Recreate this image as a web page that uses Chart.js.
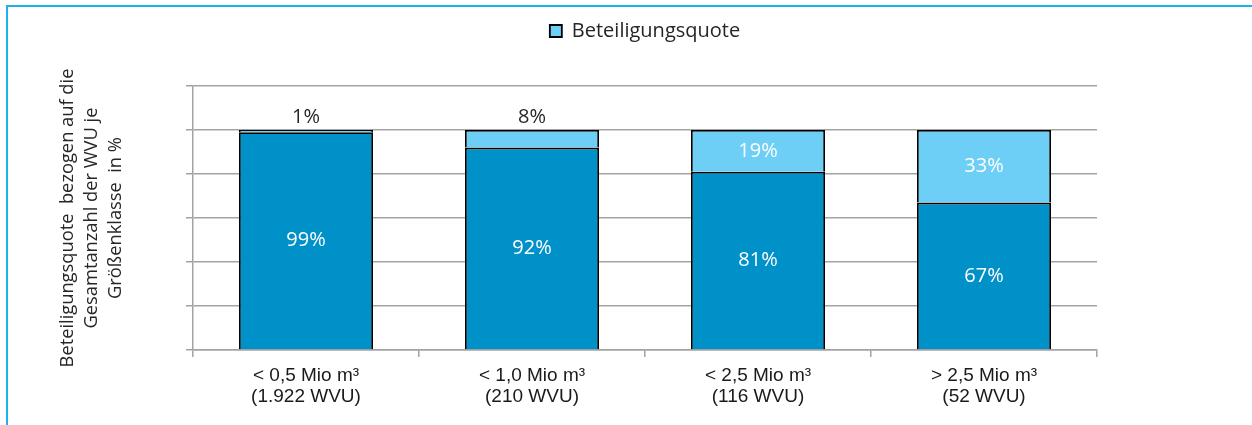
<!DOCTYPE html>
<html>
<head>
<meta charset="utf-8">
<script src="https://cdn.jsdelivr.net/npm/chart.js@4/dist/chart.umd.min.js"></script>
<style>
  html, body { margin: 0; padding: 0; background: #fff; }
  #wrap { position: relative; width: 1252px; height: 425px; overflow: hidden; }
  #frame { position: absolute; left: 6px; top: 5px; right: -10px; bottom: -10px;
           border-left: 2px solid #1db2ea; border-top: 2px solid #1db2ea; }
  canvas { position: absolute; left: 0; top: 0; }
</style>
</head>
<body>
<div id="wrap">
  <div id="frame"></div>
  <canvas id="c" width="1252" height="425"></canvas>
</div>
<script>
const categories = [
  ["< 0,5 Mio m³", "(1.922 WVU)"],
  ["< 1,0 Mio m³", "(210 WVU)"],
  ["< 2,5 Mio m³", "(116 WVU)"],
  ["> 2,5 Mio m³", "(52 WVU)"]
];
const remainderValues = [99, 92, 81, 67];
const participationValues = [1, 8, 19, 33];
const legendLabel = "Beteiligungsquote";
const yAxisTitle = ["Beteiligungsquote  bezogen auf die", "Gesamtanzahl der WVU je", "Größenklasse  in %"];
const yMin = 0, yMax = 120, yStep = 20;

const DARK = '#0091c8';
const LIGHT = '#6dcff6';
const GRID = '#a3a3a3';
const TEXT = '#262626';

const legendSpacer = {
  id: 'legendSpacer',
  beforeInit(chart) {
    const lg = chart.legend;
    if (!lg) return;
    const orig = lg.fit;
    lg.fit = function () { orig.call(this); this.height += 35; };
  }
};

const valueLabels = {
  id: 'valueLabels',
  afterDatasetsDraw(chart) {
    const ctx = chart.ctx;
    ctx.save();
    ctx.font = '20px "Open Sans"';
    ctx.textAlign = 'center';
    ctx.textBaseline = 'middle';
    chart.data.datasets.forEach((ds, di) => {
      const meta = chart.getDatasetMeta(di);
      meta.data.forEach((bar, i) => {
        const v = ds.data[i];
        const p = bar.getProps(['x', 'y', 'base'], true);
        const txt = v + '%';
        if (di === 1 && v < 10) {
          ctx.fillStyle = TEXT;
          ctx.fillText(txt, p.x, p.y - 13);
        } else {
          ctx.fillStyle = '#ffffff';
          ctx.fillText(txt, p.x, (p.y + p.base) / 2);
        }
      });
    });
    ctx.restore();
  }
};

new Chart(document.getElementById('c'), {
  type: 'bar',
  data: {
    labels: categories,
    datasets: [
      {
        label: 'Rest',
        data: remainderValues,
        backgroundColor: DARK,
        borderColor: '#000',
        borderWidth: 1.8,
        barPercentage: 0.593,
        categoryPercentage: 1.0
      },
      {
        label: legendLabel,
        data: participationValues,
        backgroundColor: LIGHT,
        borderColor: '#000',
        borderWidth: 1.8,
        barPercentage: 0.593,
        categoryPercentage: 1.0
      }
    ]
  },
  options: {
    responsive: false,
    animation: false,
    devicePixelRatio: 1,
    layout: { padding: { top: 11, right: 155, left: 0, bottom: 0 } },
    plugins: {
      tooltip: { enabled: false },
      legend: {
        position: 'top',
        fullSize: false,
        labels: {
          filter: (item) => item.datasetIndex === 1,
          boxWidth: 12,
          boxHeight: 12,
          color: TEXT,
          font: { family: '"Open Sans"', size: 20 }
        }
      }
    },
    scales: {
      x: {
        stacked: true,
        grid: { display: true, drawOnChartArea: false, drawTicks: true, tickLength: 7, color: GRID, lineWidth: 1.5, offset: true },
        border: { display: true, color: GRID, width: 1.5 },
        ticks: { color: '#1a1a1a', padding: 9, font: { family: '"Liberation Sans", Arial', size: 19, lineHeight: 1.07 }, maxRotation: 0 },
        afterFit(scale) { scale.height = 75; }
      },
      y: {
        stacked: true,
        min: yMin,
        max: yMax,
        grid: { color: GRID, lineWidth: 1.5, drawTicks: true, tickLength: 7 },
        border: { display: true, color: GRID, width: 1.5 },
        ticks: { display: false, stepSize: yStep },
        title: {
          display: true,
          text: yAxisTitle,
          color: TEXT,
          font: { family: '"Open Sans"', size: 18.3, lineHeight: 1.3 },
          padding: { top: 56, bottom: 0 }
        },
        afterFit(scale) { scale.width = 193; }
      }
    }
  },
  plugins: [legendSpacer, valueLabels]
});
</script>
</body>
</html>
